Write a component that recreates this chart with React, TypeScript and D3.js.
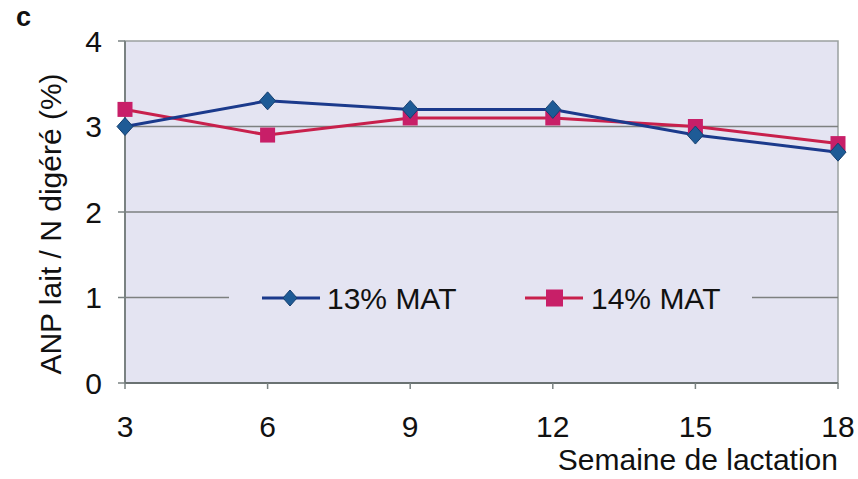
import React from "react";
import * as d3 from "d3";

const weeks = [3, 6, 9, 12, 15, 18];
const mat13 = [3.0, 3.3, 3.2, 3.2, 2.9, 2.7];
const mat14 = [3.2, 2.9, 3.1, 3.1, 3.0, 2.8];
const yTicks = [0, 1, 2, 3, 4];
const seriesNames = ["13% MAT", "14% MAT"];

const W = 858, H = 479;
const M = { left: 125, right: 838, top: 41, bottom: 383 };
const FONT = "'Liberation Sans', Arial, sans-serif";
const BLUE_LINE = "#1b3a8c";
const BLUE_MARK = "#1e5b96";
const RED_LINE = "#c8204c";
const RED_MARK = "#c81f68";

export default function App() {
  const x = d3.scaleLinear().domain([3, 18]).range([M.left, M.right]);
  const y = d3.scaleLinear().domain([0, 4]).range([M.bottom, M.top]);
  const line = d3.line<number>().x((_, i) => x(weeks[i])).y((d) => y(d));

  const diamond = (cx: number, cy: number, w: number, h: number) =>
    `M${cx},${cy - h} L${cx + w},${cy} L${cx},${cy + h} L${cx - w},${cy} Z`;

  const legY = 298;
  return (
    <svg width={W} height={H} style={{ position: "absolute", left: 0, top: 0, background: "#fff" }} fontFamily={FONT}>
      <text x={16} y={26} fontSize={27} fontWeight="bold" fill="#111">c</text>
      <rect x={M.left} y={M.top} width={M.right - M.left} height={M.bottom - M.top} fill="#e4e4f2" stroke="#9aa0a0" strokeWidth={1.5} />
      {yTicks.filter((t) => t > 0 && t < 4).map((t) => (
        <line key={t} x1={M.left} x2={M.right} y1={y(t)} y2={y(t)} stroke="#7d8080" strokeWidth={1.5} />
      ))}
      {/* axes */}
      <line x1={M.left} x2={M.left} y1={M.top} y2={M.bottom} stroke="#7a8282" strokeWidth={2} />
      <line x1={M.left} x2={M.right} y1={M.bottom} y2={M.bottom} stroke="#6a7272" strokeWidth={2} />
      {yTicks.map((t) => (
        <g key={t}>
          <line x1={M.left - 7} x2={M.left} y1={y(t)} y2={y(t)} stroke="#7a8282" strokeWidth={1.5} />
          <text x={102} y={y(t)} dy="0.35em" textAnchor="end" fontSize={30} fill="#111">{t}</text>
        </g>
      ))}
      {weeks.map((w) => (
        <g key={w}>
          <line x1={x(w)} x2={x(w)} y1={M.bottom} y2={M.bottom + 6} stroke="#7a8282" strokeWidth={1.5} />
          <text x={x(w)} y={437} textAnchor="middle" fontSize={30} fill="#111">{w}</text>
        </g>
      ))}
      <text x={838} y={470} textAnchor="end" fontSize={30} fill="#111">Semaine de lactation</text>
      <text transform={`translate(61,${(M.top + M.bottom) / 2 + 12}) rotate(-90)`} textAnchor="middle" fontSize={30} fill="#111">ANP lait / N digéré (%)</text>

      {/* legend */}
      <rect x={229} y={277} width={523} height={42} fill="#e4e4f2" />
      <line x1={262} x2={320} y1={legY} y2={legY} stroke={BLUE_LINE} strokeWidth={3} />
      <path d={diamond(290, legY, 7, 8)} fill={BLUE_MARK} stroke="#163f70" strokeWidth={1} />
      <text x={327} y={legY + 11} fontSize={30} fill="#111">{seriesNames[0]}</text>
      <line x1={525} x2={583} y1={legY} y2={legY} stroke={RED_LINE} strokeWidth={3} />
      <rect x={546} y={legY - 8.5} width={17} height={17} fill={RED_MARK} />
      <text x={591} y={legY + 11} fontSize={30} fill="#111">{seriesNames[1]}</text>

      {/* series */}
      <path d={line(mat14) || ""} fill="none" stroke={RED_LINE} strokeWidth={3} />
      <path d={line(mat13) || ""} fill="none" stroke={BLUE_LINE} strokeWidth={3} />
      {mat14.map((v, i) => (
        <rect key={"r" + i} x={x(weeks[i]) - 7.5} y={y(v) - 7.5} width={15} height={15} fill={RED_MARK} />
      ))}
      {mat13.map((v, i) => (
        <path key={"b" + i} d={diamond(x(weeks[i]), y(v), 8, 9)} fill={BLUE_MARK} stroke="#163f70" strokeWidth={1} />
      ))}
    </svg>
  );
}
